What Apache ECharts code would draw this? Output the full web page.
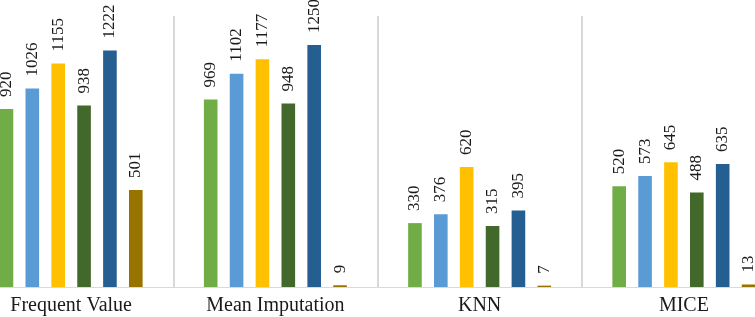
<!DOCTYPE html>
<html>
<head>
<meta charset="utf-8">
<script src="https://cdn.jsdelivr.net/npm/echarts@6/dist/echarts.min.js"></script>
<style>
  html, body { margin: 0; padding: 0; background: #fff; }
  .frame { position: relative; width: 755px; height: 317px; overflow: hidden; }
  /* the reference is a crop of a wider chart: outer category edges fall off-canvas */
  #chart { position: absolute; left: -31px; top: 0; width: 817px; height: 317px; }
</style>
</head>
<body>
<div class="frame"><div id="chart"></div></div>
<script>
const categories = ['Frequent Value', 'Mean Imputation', 'KNN', 'MICE'];
const seriesNames = ['Series 1', 'Series 2', 'Series 3', 'Series 4', 'Series 5', 'Series 6'];
const series1 = [920, 969, 330, 520];
const series2 = [1026, 1102, 376, 573];
const series3 = [1155, 1177, 620, 645];
const series4 = [938, 948, 315, 488];
const series5 = [1222, 1250, 395, 635];
const series6 = [501, 9, 7, 13];
const allSeries = [series1, series2, series3, series4, series5, series6];

const colorList = ['#70AD47', '#5B9BD5', '#FFC000', '#43682B', '#255E91', '#997300'];

const myChart = echarts.init(document.getElementById('chart'));

const seriesList = allSeries.map((vals, index) => {
    return {
        name: seriesNames[index],
        type: 'bar',
        data: vals,
        itemStyle: { color: colorList[index] },
        barCategoryGap: '30%',
        barGap: '90%',
        label: {
            show: true,
            position: 'top',
            rotate: 90,
            align: 'left',
            verticalAlign: 'middle',
            distance: 12,
            fontFamily: 'Liberation Serif',
            fontSize: 17,
            color: '#1a1a1a'
        }
    }
});

myChart.setOption({
    animation: false,
    grid: {
        left: 0,
        right: 0,
        top: 16,
        bottom: 30
    },
    xAxis: {
        type: 'category',
        data: categories,
        axisTick: { show: false },
        axisLine: { lineStyle: { color: '#D9D9D9', width: 1 } },
        splitLine: { show: true, lineStyle: { color: '#D9D9D9', width: 2 } },
        axisLabel: {
            margin: 9,
            fontFamily: 'Liberation Serif',
            fontSize: 20,
            color: '#1a1a1a'
        }
    },
    yAxis: {
        type: 'value',
        min: 0,
        max: 1400,
        show: false,
        splitLine: { show: false }
    },
    series: seriesList
});
</script>
</body>
</html>
